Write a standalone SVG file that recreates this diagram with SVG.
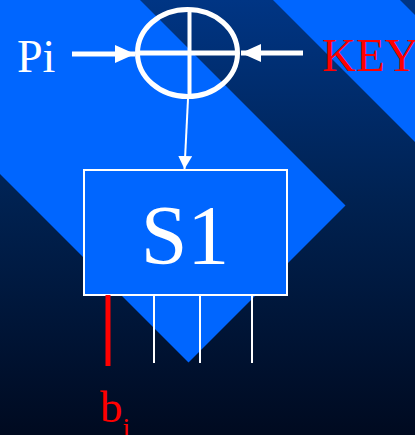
<svg xmlns="http://www.w3.org/2000/svg" width="415" height="435" viewBox="0 0 415 435">
<defs>
<linearGradient id="bg" x1="0" y1="0" x2="0" y2="1">
<stop offset="0" stop-color="#003584"/>
<stop offset="0.45" stop-color="#002252"/>
<stop offset="1" stop-color="#000a20"/>
</linearGradient>
<marker id="ah" markerUnits="userSpaceOnUse" markerWidth="20" markerHeight="20" refX="20" refY="10" orient="auto">
<path d="M0,1 L20,10 L0,19 Z" fill="#fff"/>
</marker>
<marker id="ahs" markerUnits="userSpaceOnUse" markerWidth="14" markerHeight="14" refX="13" refY="7" orient="auto">
<path d="M0,0 L13,7 L0,14 Z" fill="#fff"/>
</marker>
<style>
.lbl{font-family:"Liberation Serif","Times New Roman",serif}
.w{stroke:#fff;fill:none}
</style>
</defs>
<rect width="415" height="435" fill="url(#bg)"/>
<polygon points="0,0 140,0 345.5,205.5 188.5,362.5 0,174" fill="#0066ff"/>
<polygon points="273,0 400,0 415,15 415,142" fill="#0066ff"/>

<g id="xor">
<ellipse cx="187.5" cy="53" rx="50" ry="43.5" class="w" stroke-width="5"/>
<line x1="137.5" y1="53" x2="237.5" y2="53" class="w" stroke-width="5"/>
<line x1="189.5" y1="9.5" x2="189.5" y2="96.5" class="w" stroke-width="4"/>
</g>

<g id="pi"><text class="lbl" x="17" y="72" font-size="46" fill="#fff">Pi</text></g>
<g id="key"><text class="lbl" x="322" y="71" font-size="47" fill="#ff0000">KEY</text></g>

<g id="s1">
<rect x="84" y="170" width="203" height="125" fill="#0066ff" stroke="#fff" stroke-width="2"/>
<text class="lbl" x="185" y="264" font-size="84" fill="#fff" text-anchor="middle">S1</text>
</g>

<g id="outputs">
<line x1="108" y1="295" x2="108" y2="366" stroke="#ff0000" stroke-width="5"/>
<line x1="154" y1="295" x2="154" y2="363" stroke="#fff" stroke-width="2"/>
<line x1="200" y1="295" x2="200" y2="363" stroke="#fff" stroke-width="2"/>
<line x1="252" y1="295" x2="252" y2="363" stroke="#fff" stroke-width="2"/>
</g>

<g id="bi"><text class="lbl" x="100" y="422" font-size="45" fill="#ff0000">b<tspan font-size="28" dy="15">i</tspan></text></g>

<g id="connectors">
<line x1="72" y1="54" x2="135" y2="54" class="w" stroke-width="5" marker-end="url(#ah)"/>
<line x1="303" y1="53" x2="241" y2="53" class="w" stroke-width="5" marker-end="url(#ah)"/>
<line x1="188" y1="99" x2="184.5" y2="169" class="w" stroke-width="2" marker-end="url(#ahs)"/>
</g>
</svg>
